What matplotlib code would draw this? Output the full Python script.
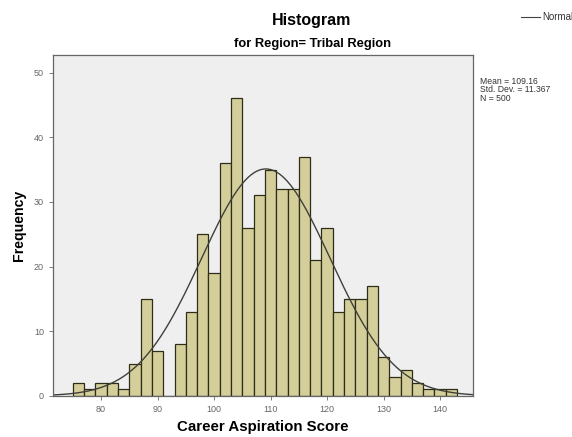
import numpy as np
import matplotlib
matplotlib.use("Agg")
import matplotlib.pyplot as plt

plt.rcParams['font.family'] = ['Liberation Sans', 'DejaVu Sans']

# bin edges are every 2 points, starting at 75
bin_starts = list(range(75, 143, 2))
counts = [2, 1, 2, 2, 1, 5, 15, 7, 0, 8, 13, 25, 19, 36, 46, 26, 31,
          35, 32, 32, 37, 21, 26, 13, 15, 15, 17, 6, 3, 4, 2, 1, 1, 1]
bin_width = 2
mean_val = 109.16
std_val = 11.367
n_total = 500
x_ticks = [80, 90, 100, 110, 120, 130, 140]
y_ticks = [0, 10, 20, 30, 40, 50]

fig = plt.figure(figsize=(5.72, 4.37), dpi=100)
ax = fig.add_axes([0.0927, 0.094, 0.734, 0.78])
ax.set_facecolor('#efefef')

ax.bar(bin_starts, counts, width=bin_width, align='edge',
       color='#d4cf9a', edgecolor='#2e2d18', linewidth=0.9)

# normal curve from the stated mean / std dev
xs = np.linspace(71.5, 145.8, 300)
pdf = np.exp(-0.5 * ((xs - mean_val) / std_val) ** 2) / (std_val * np.sqrt(2 * np.pi))
ax.plot(xs, pdf * n_total * bin_width, color='#40403a', linewidth=1.0)

ax.set_xlim(71.5, 145.8)
ax.set_ylim(0, 52.7)
ax.set_xticks(x_ticks)
ax.set_yticks(y_ticks)
ax.tick_params(labelsize=6.5, colors='#666666', length=3, width=0.6)
for sp in ax.spines.values():
    sp.set_color('#666666')
    sp.set_linewidth(0.9)

ax.set_xlabel('Career Aspiration Score', fontsize=10.8, fontweight='bold', labelpad=4)
ax.set_ylabel('Frequency', fontsize=10.2, fontweight='bold', labelpad=6)

fig.text(312 / 572, 1 - 20 / 437, 'Histogram', ha='center', va='center',
         fontsize=11.5, fontweight='bold')
fig.text(313 / 572, 1 - 44 / 437, 'for Region= Tribal Region', ha='center', va='center',
         fontsize=9.3, fontweight='bold')

# stats box
fig.text(480 / 572, 1 - 77 / 437,
         f'Mean = {mean_val}\nStd. Dev. = {std_val}\nN = {n_total}',
         ha='left', va='top', fontsize=6.2, color='#333333', linespacing=0.9)

# legend entry at top right (text runs off the right edge as in the original)
fig.lines.append(plt.Line2D([521 / 572, 540 / 572], [1 - 17 / 437, 1 - 17 / 437],
                            transform=fig.transFigure, color='#444444', linewidth=0.8))
fig.text(542 / 572, 1 - 17 / 437, 'Normal', ha='left', va='center',
         fontsize=7, color='#333333')

fig.savefig('out.png', dpi=100)
